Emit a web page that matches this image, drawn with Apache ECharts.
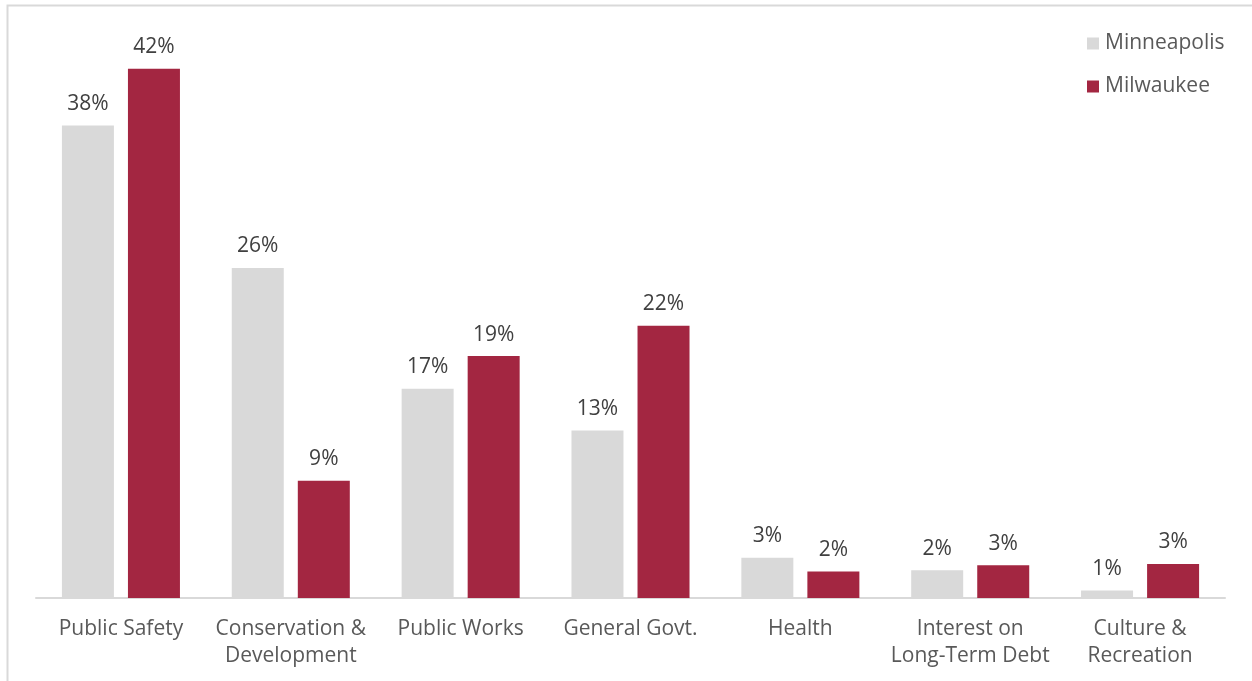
<!DOCTYPE html>
<html>
<head>
<meta charset="utf-8">
<script src="https://cdn.jsdelivr.net/npm/echarts@6/dist/echarts.min.js"></script>
<style>
    html, body { margin: 0; padding: 0; background: #fff; }
    #chart { width: 1252px; height: 681px; }
</style>
</head>
<body>
<div id="chart"></div>
<script>
// 数据
const categories = ["Public Safety", "Conservation &\nDevelopment", "Public Works", "General Govt.", "Health", "Interest on\nLong-Term Debt", "Culture &\nRecreation"];
const minneapolis = [37.5, 26.2, 16.6, 13.3, 3.2, 2.2, 0.6];
const milwaukee = [42.0, 9.3, 19.2, 21.6, 2.1, 2.6, 2.7];

(function () {
    const my_echart = echarts.init(document.querySelector("#chart")); //实例化echarts对象
    const font = "'Open Sans', 'Liberation Sans', Arial, sans-serif";
    const label = {
        show: true,
        position: 'top',
        distance: 11,
        fontSize: 21,
        fontFamily: font,
        color: '#404040',
        formatter: function (p) { return Math.round(p.value) + '%'; }
    };
    let option = {
        animation: false,
        textStyle: { fontFamily: font },
        graphic: [
            { //外框
                type: 'rect',
                shape: { x: 7.5, y: 5.5, width: 1260, height: 720 },
                style: { fill: 'none', stroke: '#d9d9d9', lineWidth: 2 },
                silent: true
            }
        ],
        legend: {
            orient: 'vertical',
            left: 1087,
            top: 33,
            padding: 0,
            itemWidth: 12,
            itemHeight: 12,
            itemGap: 22,
            icon: 'rect',
            textStyle: { fontSize: 21, color: '#595959', fontFamily: font, padding: [0, 0, 0, 1] },
            data: ['Minneapolis', 'Milwaukee']
        },
        grid: {
            left: 36,
            right: 27,
            top: 31,
            bottom: 83,
            containLabel: false
        },
        xAxis: {
            type: 'category',
            data: categories,
            axisTick: { show: false },
            axisLine: { lineStyle: { color: '#d9d9d9', width: 2 } },
            axisLabel: {
                color: '#595959',
                fontSize: 21,
                fontFamily: font,
                lineHeight: 27,
                margin: 18,
                interval: 0
            }
        },
        yAxis: {
            type: 'value',
            min: 0,
            max: 45,
            show: false,
            splitLine: { show: false }
        },
        series: [
            {
                name: 'Minneapolis',
                type: 'bar',
                barWidth: 52,
                barGap: '27%',
                itemStyle: { color: '#d9d9d9' },
                label: label,
                data: minneapolis
            },
            {
                name: 'Milwaukee',
                type: 'bar',
                barWidth: 52,
                barGap: '27%',
                itemStyle: { color: '#a32641' },
                label: label,
                data: milwaukee
            }
        ]
    }; //配置项
    my_echart.setOption(option);
})();
</script>
</body>
</html>
